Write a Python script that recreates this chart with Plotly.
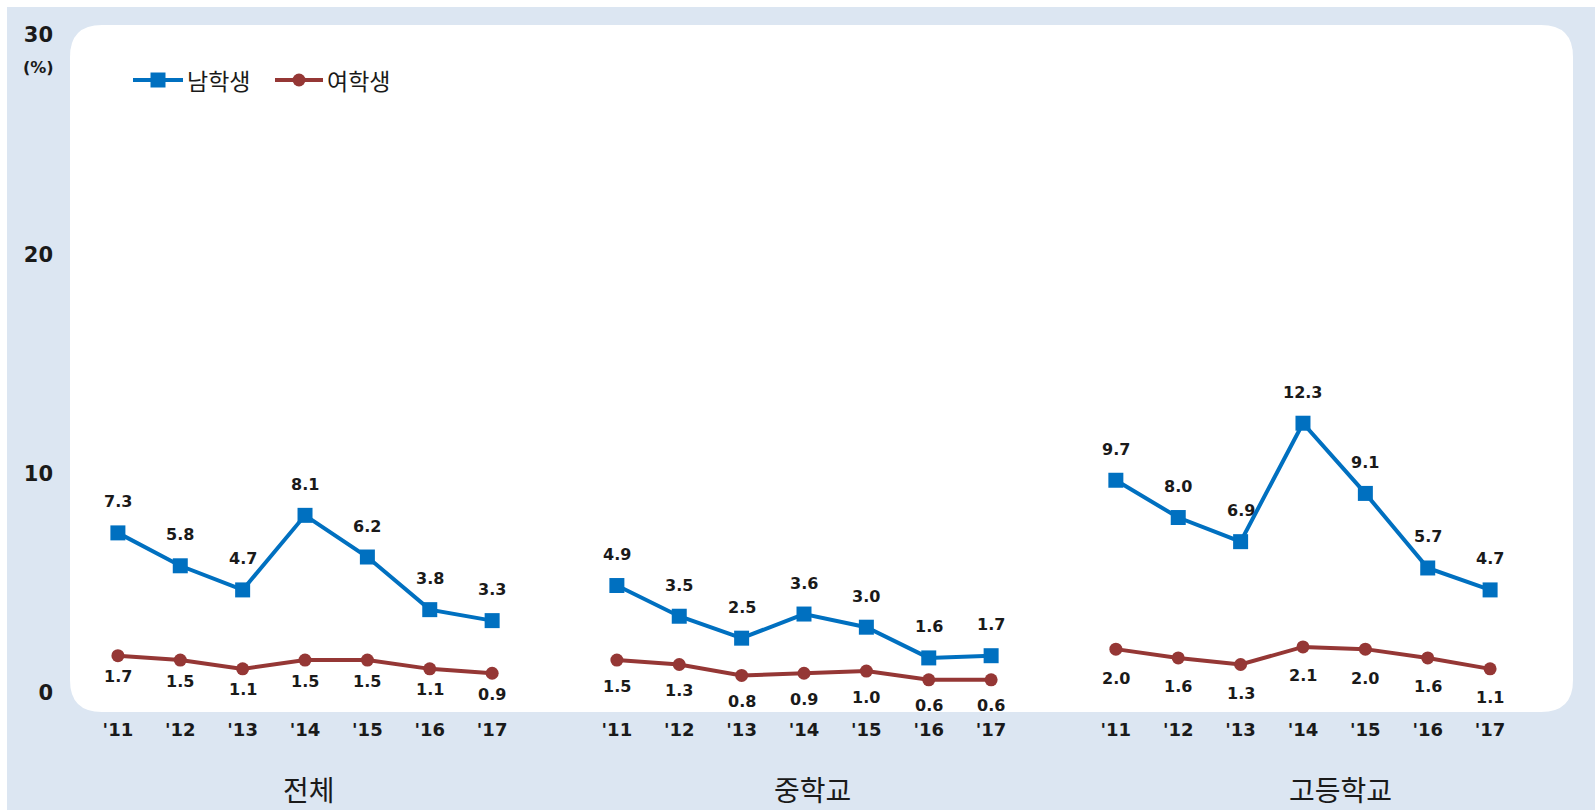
import plotly.graph_objects as go

# ---- data ----
years = ["'11", "'12", "'13", "'14", "'15", "'16", "'17"]
groups = ["전체", "중학교", "고등학교"]

male_total = [7.3, 5.8, 4.7, 8.1, 6.2, 3.8, 3.3]
male_middle = [4.9, 3.5, 2.5, 3.6, 3.0, 1.6, 1.7]
male_high = [9.7, 8.0, 6.9, 12.3, 9.1, 5.7, 4.7]

female_total = [1.7, 1.5, 1.1, 1.5, 1.5, 1.1, 0.9]
female_middle = [1.5, 1.3, 0.8, 0.9, 1.0, 0.6, 0.6]
female_high = [2.0, 1.6, 1.3, 2.1, 2.0, 1.6, 1.1]

y_ticks = [0, 10, 20, 30]
series_names = ["남학생", "여학생"]

# ---- page geometry ----
W, H = 1595, 810
ML, MR, MT, MB = 68, 55, 35, 117
PW, PH = W - ML - MR, H - MT - MB
GROUP_STEP = 8  # 7 years + one empty slot between groups

BLUE = "#0070c0"
RED = "#953735"
BG = "#dce6f2"
TXT = "#1a1a1a"
NUM_FONT = "DejaVu Sans"
KR_FONT = "Noto Sans CJK KR"


def fx(px):
    return (px - ML) / PW


def fy(py):
    return (H - MB - py) / PH


def build_xy(series):
    xs, ys = [], []
    for g, vals in enumerate(series):
        if g:
            xs.append(None)
            ys.append(None)
        xs.extend(g * GROUP_STEP + i for i in range(len(vals)))
        ys.extend(vals)
    return xs, ys


male_series = [male_total, male_middle, male_high]
female_series = [female_total, female_middle, female_high]

fig = go.Figure()

mx, my = build_xy(male_series)
wx, wy = build_xy(female_series)

fig.add_trace(go.Scatter(
    x=mx, y=my, mode="lines+markers", name=series_names[0],
    line=dict(color=BLUE, width=4),
    marker=dict(symbol="square", size=15, color=BLUE),
    showlegend=False, hoverinfo="skip",
))
fig.add_trace(go.Scatter(
    x=wx, y=wy, mode="lines+markers", name=series_names[1],
    line=dict(color=RED, width=4),
    marker=dict(symbol="circle", size=13, color=RED),
    showlegend=False, hoverinfo="skip",
))

annotations = []
label_font = dict(family=NUM_FONT, size=16, color=TXT, weight="bold")

# value labels
female_shift = [-21, -26, -29]
for g in range(len(groups)):
    for i, v in enumerate(male_series[g]):
        annotations.append(dict(
            x=g * GROUP_STEP + i, y=v, xref="x", yref="y", text=f"{v:.1f}",
            showarrow=False, yshift=31, xanchor="center", yanchor="middle",
            font=label_font,
        ))
    for i, v in enumerate(female_series[g]):
        annotations.append(dict(
            x=g * GROUP_STEP + i, y=v, xref="x", yref="y", text=f"{v:.1f}",
            showarrow=False, yshift=female_shift[g], xanchor="center", yanchor="middle",
            font=label_font,
        ))

# group captions under the year ticks
group_label_shift = [0.06, 0.13, 0.6]
for g, name in enumerate(groups):
    annotations.append(dict(
        x=g * GROUP_STEP + 3 + group_label_shift[g], y=fy(789),
        xref="x", yref="paper", text=name, showarrow=False,
        xanchor="center", yanchor="middle",
        font=dict(family=KR_FONT, size=28, color=TXT),
    ))

# unit label under the top tick
annotations.append(dict(
    x=fx(38), y=fy(67), xref="paper", yref="paper", text="(%)",
    showarrow=False, xanchor="center", yanchor="middle",
    font=dict(family=NUM_FONT, size=16, color=TXT, weight="bold"),
))

# legend (drawn by hand so the key line is as long as the chart's)
legend_items = [
    (series_names[0], BLUE, "rect", 133, 183, 7.5),
    (series_names[1], RED, "circle", 275, 323, 6.5),
]
shapes = [
    # page background with a thin white edge on the top and left
    dict(type="rect", xref="paper", yref="paper",
         x0=fx(7), x1=fx(W + 5), y0=fy(7), y1=fy(H + 5),
         fillcolor=BG, line=dict(width=0), layer="below"),
]

# white rounded panel
x0, x1, y0, y1, r = 70, 1573, 25, 712, 32
pts = [
    ("M", x0 + r, y0), ("L", x1 - r, y0), ("Q", x1, y0, x1, y0 + r),
    ("L", x1, y1 - r), ("Q", x1, y1, x1 - r, y1), ("L", x0 + r, y1),
    ("Q", x0, y1, x0, y1 - r), ("L", x0, y0 + r), ("Q", x0, y0, x0 + r, y0),
]
path = ""
for p in pts:
    cmd, coords = p[0], p[1:]
    pairs = [f"{fx(coords[k]):.5f},{fy(coords[k + 1]):.5f}" for k in range(0, len(coords), 2)]
    path += cmd + " " + " ".join(pairs) + " "
path += "Z"
shapes.append(dict(type="path", path=path, xref="paper", yref="paper",
                   fillcolor="white", line=dict(width=0), layer="below"))

for name, color, sym, lx0, lx1, half in legend_items:
    ly = 80
    cx = (lx0 + lx1) / 2
    shapes.append(dict(type="line", xref="paper", yref="paper",
                       x0=fx(lx0), x1=fx(lx1), y0=fy(ly), y1=fy(ly),
                       line=dict(color=color, width=4)))
    shapes.append(dict(type=sym, xref="paper", yref="paper",
                       xsizemode="pixel", ysizemode="pixel",
                       xanchor=fx(cx), yanchor=fy(ly),
                       x0=-half, x1=half, y0=-half, y1=half,
                       fillcolor=color, line=dict(width=0)))
    annotations.append(dict(
        x=fx(lx1 + 2), y=fy(ly), xref="paper", yref="paper", text=name,
        xanchor="left", yanchor="middle", showarrow=False,
        font=dict(family=KR_FONT, size=23, color=TXT),
    ))

tickvals = [g * GROUP_STEP + i for g in range(len(groups)) for i in range(len(years))]
ticktext = years * len(groups)

fig.update_layout(
    width=W, height=H,
    margin=dict(l=ML, r=MR, t=MT, b=MB, pad=0),
    paper_bgcolor="white",
    plot_bgcolor="rgba(0,0,0,0)",
    showlegend=False,
    shapes=shapes,
    annotations=annotations,
    xaxis=dict(
        range=[-0.8, 22.8], tickmode="array", tickvals=tickvals, ticktext=ticktext,
        showgrid=False, zeroline=False, showline=False, ticks="",
        ticklabelstandoff=24,
        tickfont=dict(family=NUM_FONT, size=18, color=TXT, weight="bold"),
        fixedrange=True,
    ),
    yaxis=dict(
        range=[0, 30], tickmode="array", tickvals=y_ticks,
        ticktext=[str(t) for t in y_ticks],
        showgrid=False, zeroline=False, showline=False, ticks="",
        ticklabelstandoff=14,
        tickfont=dict(family=NUM_FONT, size=21, color=TXT, weight="bold"),
        fixedrange=True,
    ),
)

fig.write_html("out.html")
